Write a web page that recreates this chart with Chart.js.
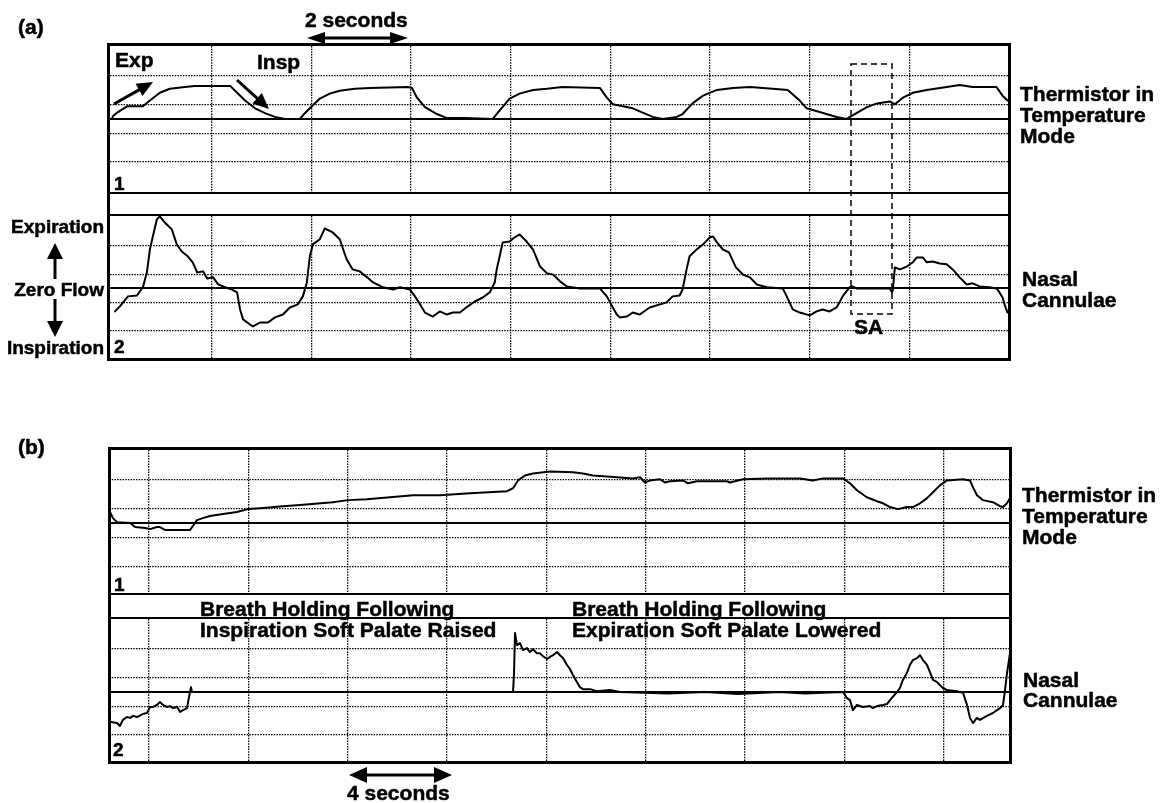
<!DOCTYPE html>
<html><head><meta charset="utf-8">
<script src="https://cdn.jsdelivr.net/npm/chart.js@4.4.0/dist/chart.umd.min.js"></script>
<style>
html,body{margin:0;padding:0;background:#fff;}
#root{position:relative;width:1163px;height:803px;overflow:hidden;background:#fff;font-family:"Liberation Sans",Arial,Helvetica,sans-serif;font-weight:bold;color:#000;}
canvas{position:absolute;}
.t{position:absolute;white-space:nowrap;font-size:21px;line-height:24px;-webkit-text-stroke:0.5px #000;}
.s{font-size:19px;}
.box{position:absolute;border:3px solid #000;box-sizing:border-box;}
.hl{position:absolute;height:2px;background:#000;}
#ann{position:absolute;left:0;top:0;}
</style></head>
<body><div id="root">
<canvas id="aTherm" width="899" height="147" style="left:110px;top:46px"></canvas>
<canvas id="aNasal" width="899" height="142" style="left:110px;top:216px"></canvas>
<canvas id="bTherm" width="901" height="144" style="left:109px;top:450px"></canvas>
<canvas id="bNasal" width="901" height="142" style="left:109px;top:619px"></canvas>

<div class="box" style="left:107px;top:43px;width:904px;height:318px"></div>
<div class="hl" style="left:110px;top:192px;width:898px"></div>
<div class="hl" style="left:110px;top:214px;width:898px"></div>
<div class="box" style="left:108px;top:447px;width:904px;height:317px"></div>
<div class="hl" style="left:111px;top:593px;width:898px"></div>
<div class="hl" style="left:111px;top:617px;width:898px"></div>

<svg id="ann" width="1163" height="803" xmlns="http://www.w3.org/2000/svg"></svg>

<div class="t" style="left:18px;top:15px">(a)</div>
<div class="t" style="left:305px;top:8px">2 seconds</div>
<div class="t" style="left:115px;top:48px">Exp</div>
<div class="t" style="left:257px;top:50px">Insp</div>
<div class="t s" style="left:114px;top:172px">1</div>
<div class="t s" style="left:114px;top:335px">2</div>
<div class="t s" style="left:0;width:104px;text-align:right;top:215px">Expiration</div>
<div class="t s" style="left:0;width:104px;text-align:right;top:278px">Zero Flow</div>
<div class="t s" style="left:0;width:104px;text-align:right;top:336px">Inspiration</div>
<div class="t" style="left:1020px;top:82px">Thermistor in</div>
<div class="t" style="left:1020px;top:103px">Temperature</div>
<div class="t" style="left:1020px;top:124px">Mode</div>
<div class="t" style="left:1022px;top:267px">Nasal</div>
<div class="t" style="left:1022px;top:288px">Cannulae</div>
<div class="t" style="left:854px;top:315px">SA</div>

<div class="t" style="left:18px;top:435px">(b)</div>
<div class="t s" style="left:114px;top:573px">1</div>
<div class="t s" style="left:113px;top:738px">2</div>
<div class="t" style="left:200px;top:597px">Breath Holding Following</div>
<div class="t" style="left:200px;top:618px">Inspiration Soft Palate Raised</div>
<div class="t" style="left:572px;top:597px">Breath Holding Following</div>
<div class="t" style="left:572px;top:618px">Expiration Soft Palate Lowered</div>
<div class="t" style="left:1022px;top:483px">Thermistor in</div>
<div class="t" style="left:1022px;top:504px">Temperature</div>
<div class="t" style="left:1022px;top:525px">Mode</div>
<div class="t" style="left:1023px;top:668px">Nasal</div>
<div class="t" style="left:1023px;top:688px">Cannulae</div>
<div class="t" style="left:347px;top:781px">4 seconds</div>
</div>
<script>
// ---- Panel (a): time in seconds, signal in grid divisions (0 = baseline) ----
const aThermT = [0.00,0.02,0.12,0.30,0.62,0.76,0.96,1.16,1.46,1.66,2.37,2.47,2.67,2.87,3.07,3.27,3.47,3.77,3.87,4.01,4.17,4.37,4.57,4.87,5.18,5.94,6.02,6.12,6.28,6.52,6.72,7.08,7.64,7.78,7.98,8.18,8.45,8.73,9.03,9.79,9.93,10.05,10.45,10.85,11.05,11.33,11.45,11.65,11.86,12.14,12.46,12.80,13.26,13.56,13.80,13.94,14.20,14.54,14.74,14.94,15.15,15.35,15.61,15.71,15.87,16.07,16.35,16.75,17.01,17.27,17.75,17.87,17.97];
const aThermV = [0.00,0.10,0.24,0.44,0.44,0.64,0.91,1.05,1.11,1.15,1.15,0.98,0.64,0.37,0.20,0.07,0.00,0.00,0.20,0.44,0.71,0.88,0.98,1.05,1.08,1.11,1.08,0.74,0.41,0.17,0.03,0.03,0.00,0.30,0.71,0.88,1.01,1.05,1.11,1.08,0.74,0.51,0.37,0.07,0.00,0.07,0.17,0.54,0.81,1.01,1.08,1.11,1.05,1.01,0.64,0.37,0.24,0.07,0.00,0.20,0.41,0.54,0.61,0.51,0.74,0.91,1.01,1.11,1.18,1.11,1.11,0.81,0.64];

const aNasalT = [0.06,0.16,0.32,0.50,0.62,0.70,0.76,0.82,0.90,0.96,1.06,1.20,1.30,1.40,1.52,1.62,1.71,1.83,1.91,2.03,2.13,2.27,2.41,2.51,2.57,2.63,2.77,2.83,2.97,3.13,3.27,3.43,3.57,3.73,3.83,3.91,3.97,4.03,4.17,4.27,4.43,4.57,4.71,4.83,4.97,5.12,5.24,5.44,5.64,5.78,5.98,6.08,6.18,6.28,6.44,6.58,6.72,6.84,6.98,7.14,7.28,7.44,7.58,7.68,7.72,7.78,7.84,7.98,8.08,8.18,8.32,8.45,8.59,8.73,8.85,8.99,9.13,9.39,9.79,9.93,10.05,10.13,10.19,10.33,10.45,10.59,10.79,11.13,11.25,11.39,11.45,11.53,11.59,11.73,11.86,12.00,12.06,12.14,12.26,12.38,12.52,12.66,12.80,12.94,13.14,13.46,13.54,13.66,13.80,14.00,14.14,14.26,14.40,14.54,14.60,14.66,14.80,14.86,14.94,15.61,15.65,15.67,15.71,15.81,15.95,16.07,16.15,16.27,16.35,16.47,16.61,16.75,16.87,17.01,17.15,17.27,17.41,17.61,17.75,17.81,17.87,17.91,17.97];
const aNasalV = [-0.81,-0.63,-0.28,-0.25,0.04,0.56,1.37,1.83,2.43,2.54,2.32,2.08,1.55,1.30,1.13,0.92,0.56,0.60,0.35,0.39,0.14,0.04,-0.04,-0.14,-0.74,-1.09,-1.27,-1.34,-1.20,-1.20,-1.02,-0.92,-0.67,-0.56,-0.28,0.21,1.13,1.55,1.73,2.11,1.97,1.73,1.02,0.67,0.60,0.39,0.21,0.04,-0.04,0.04,-0.04,-0.28,-0.56,-0.85,-0.99,-0.81,-0.92,-0.85,-0.85,-0.63,-0.46,-0.32,-0.14,0.21,0.67,1.13,1.62,1.65,1.80,1.90,1.65,1.37,0.77,0.53,0.49,0.25,0.07,0,0,-0.28,-0.67,-0.92,-1.02,-0.99,-0.85,-0.92,-0.67,-0.49,-0.28,-0.25,-0.04,0.67,1.13,1.37,1.55,1.80,1.83,1.62,1.37,1.27,0.74,0.49,0.39,0.14,0.04,0,-0.28,-0.74,-0.85,-0.95,-0.81,-0.74,-0.81,-0.67,-0.49,-0.28,0.04,0.07,0,0,-0.14,-0.04,0.74,0.67,0.77,0.92,1.09,1.09,0.92,0.95,0.88,0.85,0.67,0.39,0.14,0.18,0.07,0.04,0,-0.14,-0.32,-0.56,-0.85];

// ---- Panel (b) ----
const bThermT = [0.04,0.16,0.32,0.85,1.05,1.45,1.65,1.93,2.05,2.25,3.26,3.38,3.54,3.78,4.06,4.59,5.15,5.59,6.08,7.00,7.69,9.01,9.62,10.38,11.31,12.24,13.32,14.53,16.02,16.26,16.46,16.74,17.06,17.75,18.67,19.07,19.48,20.44,21.09,21.37,21.57,21.77,22.17,22.37,22.58,23.10,23.30,23.66,24.87,24.99,25.51,26.48,27.12,27.81,28.33,28.73,29.54,29.82,30.10,30.50,30.91,31.15,31.43,31.75,32.11,32.35,32.64,32.92,33.16,33.44,33.72,34.37,34.65,34.77,34.93,35.17,35.57,35.86,35.98,36.14,36.26];
const bThermV = [0.38,0.17,0.03,0,-0.14,-0.17,-0.21,-0.14,-0.14,-0.24,-0.24,-0.10,0.10,0.17,0.24,0.31,0.38,0.48,0.51,0.58,0.62,0.72,0.79,0.82,0.89,0.96,0.96,1.03,1.10,1.20,1.47,1.64,1.71,1.78,1.75,1.71,1.64,1.58,1.54,1.58,1.40,1.47,1.51,1.40,1.44,1.47,1.37,1.44,1.44,1.40,1.51,1.54,1.54,1.54,1.47,1.54,1.54,1.37,1.13,0.89,0.75,0.68,0.55,0.48,0.55,0.55,0.68,0.86,1.06,1.30,1.47,1.51,1.47,1.23,0.96,0.79,0.72,0.58,0.55,0.68,0.86];

const bNasalT = [0.08,0.32,0.44,0.56,0.72,0.85,0.97,1.13,1.37,1.53,1.65,1.77,1.93,2.05,2.17,2.33,2.45,2.58,2.74,2.86,2.98,3.14,3.22,3.30,3.34,16.26,16.30,16.34,16.42,16.54,16.66,16.82,16.94,17.06,17.22,17.34,17.46,17.63,17.75,17.87,18.03,18.15,18.27,18.43,18.55,18.67,18.83,18.95,19.07,19.36,19.64,20.16,20.56,22.50,24.00,25.30,27.00,28.00,29.54,29.70,29.82,29.94,30.10,30.34,30.62,30.74,30.91,31.15,31.31,31.43,31.71,31.83,31.95,32.11,32.23,32.35,32.52,32.64,32.76,32.92,33.04,33.16,33.32,33.44,33.56,33.72,34.12,34.37,34.53,34.65,34.77,34.93,35.05,35.33,35.57,35.86,35.98,36.06,36.14,36.26];
const bNasalV = [-1.04,-1.08,-1.18,-0.97,-0.87,-0.90,-0.83,-0.87,-0.76,-0.73,-0.52,-0.52,-0.45,-0.35,-0.45,-0.52,-0.49,-0.56,-0.52,-0.69,-0.63,-0.56,-0.17,0.17,0,0,0.66,2.05,1.63,1.70,1.46,1.53,1.39,1.49,1.35,1.35,1.25,1.15,1.22,1.28,1.39,1.28,1.18,0.94,0.80,0.59,0.35,0.17,0.10,0.10,0.03,0.07,0,-0.05,0,-0.07,0,-0.05,0,-0.21,-0.28,-0.63,-0.45,-0.52,-0.49,-0.56,-0.49,-0.45,-0.42,-0.28,0,0.14,0.42,0.66,0.94,1.11,1.18,1.28,1.11,0.94,0.69,0.42,0.35,0.24,0.14,0.07,0.03,-0.03,-0.45,-0.90,-1.08,-0.90,-0.97,-0.83,-0.73,-0.56,-0.45,0.07,0.66,1.35];

// ---- grid ticks ----
const gridY  = [-1.5, -0.5, 0, 0.5, 1.5];          // 0 = solid baseline
const gridXA = [2, 4, 6, 8, 10, 12, 14, 16];         // 2 s per division
const gridXB = [1.6, 5.6, 9.6, 13.6, 17.6, 21.6, 25.6, 29.6, 33.6]; // 4 s per division

function makeTrace(id, times, values, xr, yr, gridX) {
  const pts = times.map((t, i) => ({x: t, y: values[i]}));
  const isBase = c => c.tick && c.tick.value === 0;
  return new Chart(document.getElementById(id), {
    type: 'line',
    data: {datasets: [{data: pts, borderColor: '#000', borderWidth: 2, pointRadius: 0,
      tension: 0, borderJoinStyle: 'round', borderCapStyle: 'round', fill: false}]},
    options: {
      responsive: false, animation: false, events: [],
      layout: {padding: 0},
      plugins: {legend: {display: false}, tooltip: {enabled: false}},
      scales: {
        x: {type: 'linear', min: xr[0], max: xr[1], ticks: {display: false},
            grid: {color: '#000', lineWidth: 1.3, drawTicks: false},
            border: {display: false, dash: [1.5, 1.2]},
            afterBuildTicks: s => { s.ticks = gridX.map(v => ({value: v})); }},
        y: {type: 'linear', min: yr[0], max: yr[1], ticks: {display: false},
            grid: {color: '#000', lineWidth: c => isBase(c) ? 2 : 1.3, drawTicks: false},
            border: {display: false, dash: c => isBase(c) ? [] : [1.5, 1.2]},
            afterBuildTicks: s => { s.ticks = gridY.map(v => ({value: v})); }}
      }
    }
  });
}

makeTrace('aTherm', aThermT, aThermV, [-0.04, 18.0], [-2.58, 2.54], gridXA);
makeTrace('aNasal', aNasalT, aNasalV, [-0.04, 18.0], [-2.45, 2.55], gridXA);
makeTrace('bTherm', bThermT, bThermV, [0, 36.26], [-2.45, 2.52], gridXB);
makeTrace('bNasal', bNasalT, bNasalV, [0, 36.26], [-2.40, 2.54], gridXB);

// ---- annotations (arrows, SA window) ----
const NS = 'http://www.w3.org/2000/svg';
const svg = document.getElementById('ann');
function el(name, attrs) {
  const e = document.createElementNS(NS, name);
  for (const k in attrs) e.setAttribute(k, attrs[k]);
  svg.appendChild(e); return e;
}
function head(tx, ty, dx, dy, L, W) {
  const bx = tx - dx * L, by = ty - dy * L, px = -dy, py = dx;
  el('polygon', {points: `${tx},${ty} ${bx + px * W},${by + py * W} ${bx - px * W},${by - py * W}`, fill: '#000'});
  return [bx, by];
}
function arrow(x1, y1, x2, y2, L, W, sw, both) {
  const len = Math.hypot(x2 - x1, y2 - y1), dx = (x2 - x1) / len, dy = (y2 - y1) / len;
  const e = head(x2, y2, dx, dy, L, W);
  let s = [x1, y1];
  if (both) s = head(x1, y1, -dx, -dy, L, W);
  el('line', {x1: s[0], y1: s[1], x2: e[0] + dx * 1, y2: e[1] + dy * 1, stroke: '#000', 'stroke-width': sw});
}
arrow(307, 38, 408, 38, 18, 6, 3, true);     // 2 seconds
arrow(349, 775, 452, 775, 18, 8, 3, true);   // 4 seconds
arrow(114, 104, 153, 82, 16, 7, 3, false);   // Exp
arrow(237, 80, 269, 109, 16, 7, 3, false);   // Insp
arrow(55, 279, 55, 243, 16, 8, 3, false);    // up (Expiration)
arrow(55, 299, 55, 337, 16, 8, 3, false);    // down (Inspiration)
el('rect', {x: 851, y: 64, width: 41, height: 250, fill: 'none', stroke: '#000', 'stroke-width': 1.5, 'stroke-dasharray': '6 4'});
</script>
</body></html>
